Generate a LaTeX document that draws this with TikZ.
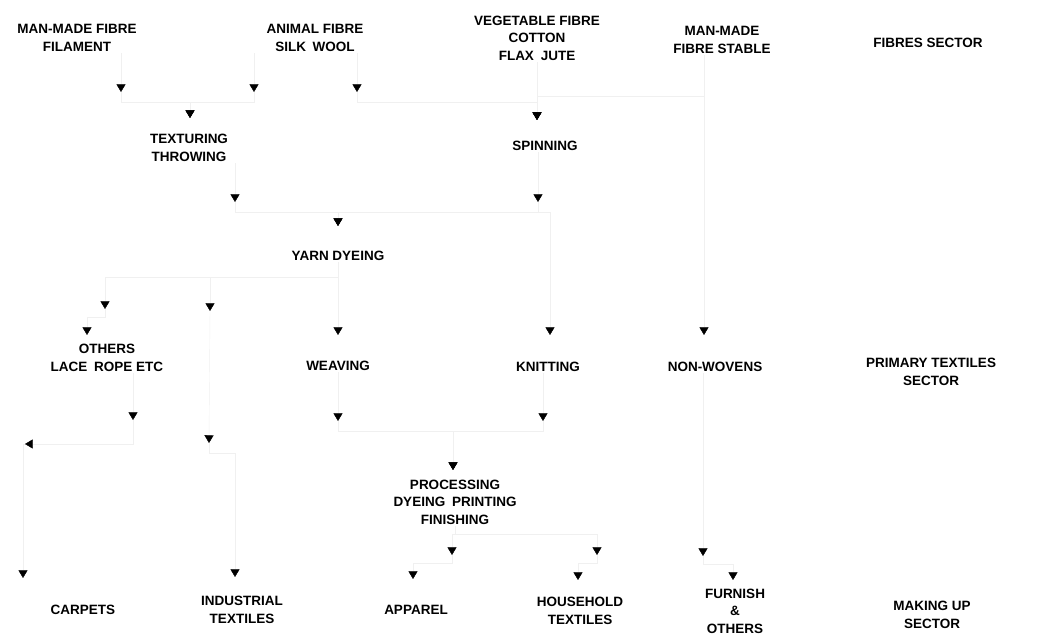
\documentclass[tikz,border=0pt]{standalone}
\usepackage{fontspec}
\setmainfont{Liberation Sans}
\usetikzlibrary{arrows.meta,positioning}

\begin{document}
\begin{tikzpicture}[x=0.025cm, y=-0.025cm,
        stage/.style = {align=center, font=\bfseries\fontsize{9.6}{12.4}\selectfont, inner sep=1pt},
        flow/.style = {draw=black!6, line width=0.3pt, -{Triangle[width=6.5pt, length=5.5pt, color=black, fill=black]}}]
    \useasboundingbox (0,0) rectangle (1040,635);

    \node [stage] (fil) at (77,38) {MAN-MADE FIBRE\\FILAMENT};
    \node [stage] (ani) at (315,38) {ANIMAL FIBRE\\SILK\enspace WOOL};
    \node [stage] (veg) at (537,38) {VEGETABLE FIBRE\\COTTON\\FLAX\enspace JUTE};
    \node [stage] (mms) at (722,40) {MAN-MADE\\FIBRE STABLE};
    \node [stage] (fsec) at (928,43) {FIBRES SECTOR};
    \node [stage] (tex) at (189,148) {TEXTURING\\THROWING};
    \node [stage] (spn) at (545,146) {SPINNING};
    \node [stage] (yrn) at (338,256) {YARN DYEING};
    \node [stage] (oth) at (107,358) {OTHERS\\LACE\enspace ROPE ETC};
    \node [stage] (wea) at (338,366) {WEAVING};
    \node [stage] (knt) at (548,367) {KNITTING};
    \node [stage] (non) at (715,367) {NON-WOVENS};
    \node [stage] (psec) at (931,372) {PRIMARY TEXTILES\\SECTOR};
    \node [stage] (pro) at (455,502) {PROCESSING\\DYEING\enspace PRINTING\\FINISHING};
    \node [stage] (car) at (83,610) {CARPETS};
    \node [stage] (ind) at (242,610) {INDUSTRIAL\\TEXTILES};
    \node [stage] (app) at (416,610) {APPAREL};
    \node [stage] (hou) at (580,611) {HOUSEHOLD\\TEXTILES};
    \node [stage] (fur) at (735,611) {FURNISH\\\&\\OTHERS};
    \node [stage] (msec) at (932,615) {MAKING UP\\SECTOR};

    \coordinate (t1) at (121,92);   \coordinate (t2) at (254,92);
    \coordinate (t3) at (357,92);   \coordinate (t4) at (190,118);
    \coordinate (t5) at (235,202);  \coordinate (t6) at (338,226);
    \coordinate (t7) at (537,120);  \coordinate (t8) at (538,202);
    \coordinate (t9) at (105,309);  \coordinate (t10) at (210,311);
    \coordinate (t11) at (87,335);  \coordinate (t12) at (338,335);
    \coordinate (t13) at (133,420); \coordinate (t14) at (209,443);
    \coordinate (t15) at (25,444);  \coordinate (t16) at (338,421);
    \coordinate (t17) at (453,470); \coordinate (t18) at (452,555);
    \coordinate (t19) at (413,579); \coordinate (t20) at (23,578);
    \coordinate (t21) at (235,577); \coordinate (t22) at (550,335);
    \coordinate (t23) at (704,335); \coordinate (t24) at (543,421);
    \coordinate (t25) at (597,555); \coordinate (t26) at (578,580);
    \coordinate (t27) at (703,556); \coordinate (t28) at (733,580);

    \draw [flow] (fil.south -| t1) -- (t1);
    \draw [flow] (t1) -- ++(0,10) -| (t4);
    \draw [flow] (ani.south -| t2) -- (t2);
    \draw [flow] (t2) -- ++(0,10) -| (t4);
    \draw [flow] (ani.south -| t3) -- (t3);
    \draw [flow] (t3) -- ++(0,10) -| (t7);
    \draw [flow] (veg.south) -- (t7);
    \draw [flow] (mms.south -| t23) -- ++(0,41) -| (t7);
    \draw [flow] (mms.south -| t23) -- (t23);
    \draw [flow] (tex.south -| t5) -- (t5);
    \draw [flow] (t5) -- ++(0,10) -| (t6);
    \draw [flow] (spn.south -| t8) -- (t8);
    \draw [flow] (t8) -- ++(0,10) -| (t6);
    \draw [flow] (t8) -- ++(0,10) -| (t22);
    \draw [flow] (yrn.south) -- ++(0,15) -| (t9);
    \draw [flow] (yrn.south) -- ++(0,15) -| (t10);
    \draw [flow] (yrn.south) -- (t12);
    \draw [flow] (t9) -- ++(0,8) -| (t11);
    \draw [flow] (oth.south -| t13) -- (t13);
    \draw [flow] (t13) |- (t15);
    \draw [flow] (t15) -| (t20);
    \draw [flow] (t10) -- (t14);
    \draw [flow] (t14) -- ++(0,10) -| (t21);
    \draw [flow] (wea.south) -- (t16);
    \draw [flow] (t16) -- ++(0,10) -| (t17);
    \draw [flow] (knt.south -| t24) -- (t24);
    \draw [flow] (t24) -- ++(0,10) -| (t17);
    \draw [flow] (non.south -| t27) -- (t27);
    \draw [flow] (pro.south) -- ++(0,8) -| (t18);
    \draw [flow] (pro.south) -- ++(0,8) -| (t25);
    \draw [flow] (t18) -- ++(0,8) -| (t19);
    \draw [flow] (t25) -- ++(0,8) -| (t26);
    \draw [flow] (t27) -- ++(0,8) -| (t28);
\end{tikzpicture}
\end{document}
